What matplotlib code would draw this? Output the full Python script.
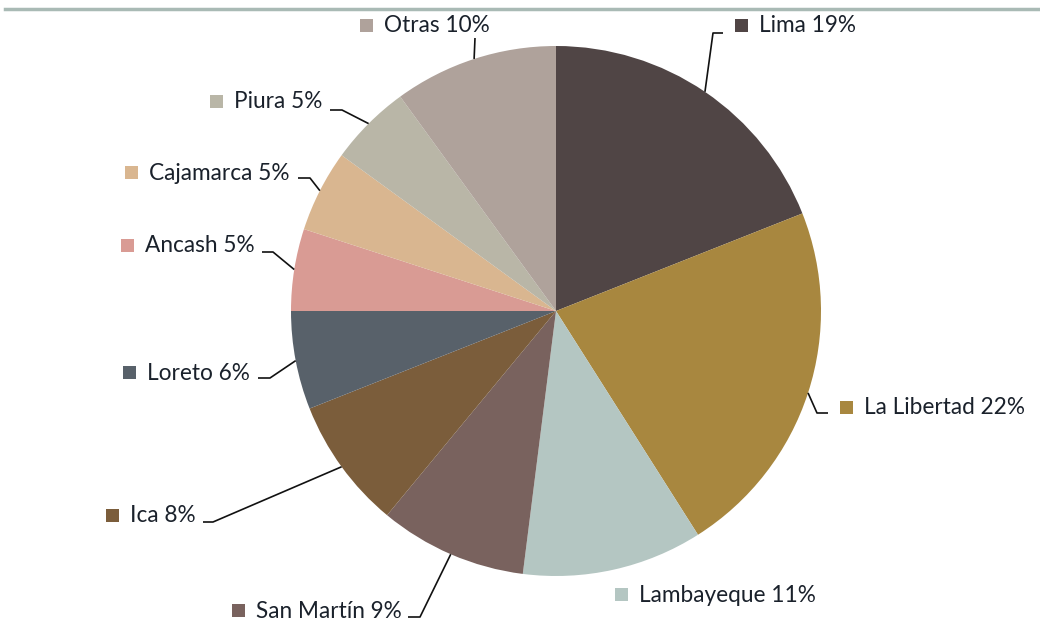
import matplotlib
matplotlib.use("Agg")
import matplotlib.pyplot as plt
from matplotlib.patches import Rectangle
import numpy as np

# ---- data ----
regions = ["Lima", "La Libertad", "Lambayeque", "San Martín", "Ica",
           "Loreto", "Ancash", "Cajamarca", "Piura", "Otras"]
shares = [19, 22, 11, 9, 8, 6, 5, 5, 5, 10]
colors = ["#504545", "#a8873f", "#b4c6c2", "#79625e", "#7b5d3b",
          "#58616a", "#d99b94", "#d9b690", "#b9b6a7", "#afa29b"]

# ---- layout (pixel coords, y down) ----
W, H = 1040, 625
center = (556, 311)
radius = 265
# square centre of each label, text starts right after it
label_pos = {
    "Lima": (741, 25), "La Libertad": (846, 407), "Lambayeque": (621, 594),
    "San Martín": (238, 610), "Ica": (112, 515), "Loreto": (129, 372),
    "Ancash": (127, 245), "Cajamarca": (131, 172), "Piura": (216, 101),
    "Otras": (366, 25),
}
# leader line break points (before reaching the slice edge)
leader_pts = {
    "Lima": [(723, 33), (713, 33)],
    "La Libertad": [(828, 413), (817, 413)],
    "Lambayeque": None,
    "San Martín": [(408, 617), (420, 617)],
    "Ica": [(203, 522), (213, 522)],
    "Loreto": [(258, 378), (270, 378)],
    "Ancash": [(262, 252), (273, 252)],
    "Cajamarca": [(298, 178), (310, 178)],
    "Piura": [(330, 110), (342, 110)],
    "Otras": [(475, 38)],
}

fig = plt.figure(figsize=(W / 100, H / 100), dpi=100)
ax = fig.add_axes([0, 0, 1, 1])

wedges, _ = ax.pie(shares, colors=colors, startangle=-90, counterclock=True,
                   center=center, radius=radius,
                   wedgeprops=dict(linewidth=0.5, edgecolor="none"))
ax.set_xlim(0, W)
ax.set_ylim(H, 0)
ax.set_aspect("equal")
ax.axis("off")

txt_color = "#1a212b"
for w, name, val, col in zip(wedges, regions, shares, colors):
    sx, sy = label_pos[name]
    s = 13
    ax.add_patch(Rectangle((sx - s / 2, sy - s / 2), s, s, color=col,
                           zorder=5, linewidth=0))
    ax.text(sx + 18, sy + 1, f"{name} {val}%", fontsize=16.3,
            family=["Lato", "DejaVu Sans"], color=txt_color,
            ha="left", va="center")
    pts = leader_pts[name]
    if pts:
        mid = np.deg2rad((w.theta1 + w.theta2) / 2)
        ax_ = center[0] + radius * np.cos(mid)
        ay_ = center[1] + radius * np.sin(mid)
        xs = [p[0] for p in pts] + [ax_]
        ys = [p[1] for p in pts] + [ay_]
        ax.plot(xs, ys, color="#111111", linewidth=1.2, zorder=4,
                solid_capstyle="butt")

# top border line
ax.plot([5, W], [9, 9], color="#a9bab5", linewidth=2.5, zorder=1)

fig.savefig("out.png", dpi=100)
